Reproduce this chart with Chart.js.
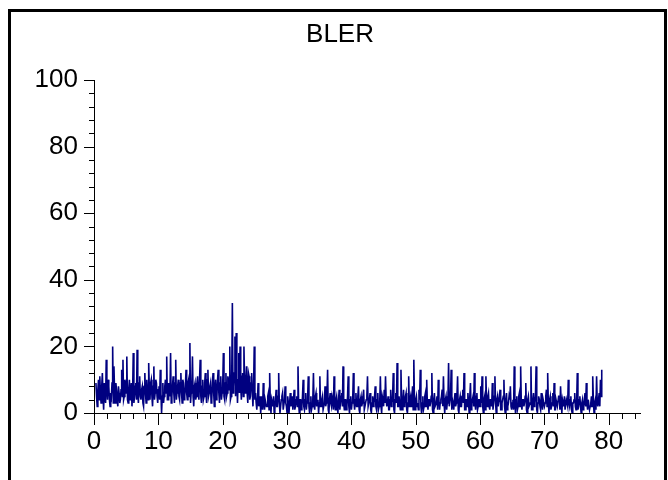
<!DOCTYPE html>
<html>
<head>
<meta charset="utf-8">
<script src="https://cdn.jsdelivr.net/npm/chart.js@4.4.1/dist/chart.umd.min.js"></script>
<style>
  body { margin: 0; background: #fff; }
  #wrap { position: relative; width: 668px; height: 480px; overflow: hidden; }
  #frame {
    position: absolute; left: 8px; top: 9px; width: 653px; height: 480px;
    border-left: 3px solid #000; border-top: 3px solid #000; border-right: 3px solid #000;
    pointer-events: none;
  }
</style>
</head>
<body>
<div id="wrap">
  <canvas id="blerChart" width="668" height="480"></canvas>
  <div id="frame"></div>
</div>
<script>
// ---------- DATA ----------
const TITLE = "BLER";
const X_TICKS = [0, 10, 20, 30, 40, 50, 60, 70, 80];
const Y_TICKS = [0, 20, 40, 60, 80, 100];

// sample times: first sample and spacing (x units)
const T_START = 0.3;
const T_STEP = 0.1;

// BLER samples (5 x-units per row)
const bler = [
    9, 5, 2, 7, 10, 4, 11, 6, 3, 8, 12, 5, 1, 9, 6, 3, 16, 7, 4, 10, 8, 4, 2, 6, 5, 9, 20, 3, 14, 6, 3, 9, 7, 4, 2, 8, 6, 3, 4, 7, 13, 5, 16, 4, 5, 10, 9, 6, 17, 4,
    3, 7, 10, 4, 6, 9, 2, 6, 18, 3, 5, 8, 9, 4, 19, 6, 3, 9, 11, 5, 4, 7, 8, 3, 2, 8, 12, 6, 3, 10, 7, 4, 15, 7, 4, 9, 10, 5, 2, 8, 14, 4, 6, 10, 9, 5, 3, 7, 8, 4,
    13, 6, 0, 5, 9, 3, 5, 8, 10, 6, 17, 4, 4, 9, 7, 5, 18, 3, 5, 8, 11, 6, 3, 9, 16, 4, 6, 8, 10, 5, 4, 9, 12, 6, 3, 10, 9, 4, 5, 8, 13, 6, 4, 9, 10, 5, 21, 3, 6, 8,
    17, 5, 2, 8, 9, 4, 5, 9, 11, 6, 4, 10, 16, 5, 3, 8, 10, 4, 5, 9, 12, 6, 3, 10, 13, 5, 6, 8, 9, 3, 4, 9, 12, 6, 2, 8, 10, 4, 5, 10, 13, 6, 3, 9, 11, 4, 6, 8, 18, 5,
    4, 9, 12, 5, 6, 11, 10, 7, 20, 4, 5, 10, 33, 6, 8, 12, 23, 5, 24, 9, 3, 10, 18, 6, 20, 8, 4, 11, 12, 5, 20, 9, 6, 10, 14, 6, 3, 12, 11, 4, 5, 9, 12, 6, 2, 8, 20, 4, 6, 3,
    1, 4, 9, 2, 3, 5, 0, 3, 5, 1, 9, 3, 1, 4, 4, 2, 2, 5, 6, 1, 12, 3, 0, 4, 3, 2, 5, 0, 1, 4, 7, 2, 2, 5, 12, 3, 0, 2, 4, 5, 6, 1, 1, 4, 8, 3, 2, 0, 5, 3,
    0, 3, 6, 2, 3, 5, 1, 4, 7, 1, 2, 4, 5, 2, 14, 3, 0, 4, 4, 1, 2, 5, 10, 2, 1, 4, 6, 1, 3, 5, 11, 2, 0, 3, 5, 1, 2, 4, 12, 2, 1, 5, 6, 2, 3, 4, 0, 3, 11, 2,
    2, 4, 5, 1, 1, 3, 8, 2, 3, 5, 13, 1, 0, 4, 6, 3, 2, 5, 4, 1, 11, 3, 1, 4, 5, 2, 0, 4, 7, 1, 3, 5, 6, 2, 14, 3, 1, 4, 4, 1, 2, 5, 11, 2, 0, 4, 5, 1, 3, 4,
    12, 3, 1, 4, 6, 2, 2, 5, 8, 1, 0, 4, 5, 2, 3, 5, 7, 1, 1, 3, 4, 5, 11, 2, 2, 4, 6, 1, 0, 3, 5, 2, 3, 5, 8, 2, 1, 4, 6, 1, 2, 3, 11, 2, 0, 5, 4, 2, 7, 3,
    11, 4, 2, 3, 5, 1, 1, 4, 7, 2, 3, 5, 12, 1, 0, 4, 6, 3, 15, 2, 2, 5, 5, 1, 13, 3, 1, 4, 7, 2, 3, 5, 6, 1, 0, 3, 11, 2, 4, 5, 2, 4, 8, 1, 16, 3, 1, 4, 5, 2,
    3, 1, 7, 4, 13, 2, 0, 3, 5, 1, 2, 5, 6, 2, 10, 3, 1, 4, 4, 2, 3, 5, 12, 1, 0, 4, 6, 2, 2, 3, 5, 1, 10, 4, 1, 3, 4, 5, 7, 2, 11, 3, 0, 4, 5, 1, 3, 4, 15, 2,
    2, 5, 13, 1, 4, 3, 1, 4, 6, 2, 3, 5, 11, 1, 0, 4, 5, 2, 2, 5, 7, 3, 12, 1, 1, 4, 4, 2, 6, 3, 0, 5, 9, 1, 3, 4, 5, 2, 12, 3, 1, 5, 6, 1, 2, 4, 4, 2, 8, 3,
    11, 2, 0, 4, 5, 1, 11, 3, 2, 5, 6, 2, 1, 4, 4, 2, 9, 1, 3, 5, 11, 3, 0, 4, 5, 2, 2, 5, 7, 1, 1, 3, 4, 5, 10, 2, 0, 4, 6, 1, 2, 3, 5, 4, 8, 2, 1, 3, 4, 1,
    14, 3, 0, 4, 5, 1, 2, 5, 6, 2, 14, 3, 1, 4, 4, 2, 3, 5, 9, 1, 0, 4, 5, 2, 2, 3, 14, 1, 1, 4, 6, 2, 3, 5, 14, 1, 0, 3, 5, 4, 2, 1, 6, 3, 1, 4, 4, 2, 3, 5,
    7, 2, 12, 3, 0, 4, 5, 1, 2, 3, 6, 2, 9, 1, 1, 4, 4, 2, 2, 5, 5, 1, 8, 3, 0, 4, 3, 2, 5, 1, 1, 4, 4, 2, 10, 3, 2, 4, 5, 1, 0, 3, 3, 4, 6, 2, 1, 3, 12, 1,
    2, 4, 5, 2, 0, 3, 4, 1, 2, 4, 6, 2, 9, 3, 1, 4, 4, 1, 2, 3, 5, 2, 11, 4, 0, 3, 4, 1, 11, 3, 2, 4, 6, 2, 10, 5, 13
];

const points = bler.map((v, i) => ({ x: T_START + i * T_STEP, y: v }));

const FONT_FAMILY = "'Liberation Sans', Arial, sans-serif";
const tickFont = { family: FONT_FAMILY, size: 26 };

// ---------- AXES + TITLE (ticks drawn by hand, minor + major) ----------
const axisPlugin = {
    id: "axisTicks",
    afterDraw(chart) {
        const { ctx, chartArea, scales } = chart;
        const xs = scales.x, ys = scales.y;
        ctx.save();
        ctx.strokeStyle = "#000";
        ctx.lineWidth = 1;
        ctx.beginPath();
        // axis lines
        ctx.moveTo(chartArea.left + 0.5, chartArea.top);
        ctx.lineTo(chartArea.left + 0.5, chartArea.bottom + 0.5);
        ctx.lineTo(chartArea.right, chartArea.bottom + 0.5);
        // x ticks every 2, major every 10
        for (let v = 0; v <= xs.max; v += 2) {
            const px = Math.round(xs.getPixelForValue(v)) + 0.5;
            const len = v % 10 === 0 ? 12 : 6;
            ctx.moveTo(px, chartArea.bottom);
            ctx.lineTo(px, chartArea.bottom + len);
        }
        // y ticks every 4, major every 20
        for (let v = 0; v <= ys.max; v += 4) {
            const py = Math.round(ys.getPixelForValue(v)) + 0.5;
            const len = v % 20 === 0 ? 10 : 5;
            ctx.moveTo(chartArea.left, py);
            ctx.lineTo(chartArea.left - len, py);
        }
        ctx.stroke();

        // title
        ctx.fillStyle = "#000";
        ctx.font = "26px " + FONT_FAMILY;
        ctx.textAlign = "center";
        ctx.textBaseline = "middle";
        ctx.fillText(TITLE, 340, 35);
        ctx.restore();
    }
};

new Chart(document.getElementById("blerChart"), {
    type: "line",
    data: {
        datasets: [{
            data: points,
            borderColor: "#000080",
            borderWidth: 1.6,
            pointRadius: 0,
            tension: 0,
            fill: false
        }]
    },
    options: {
        responsive: false,
        animation: false,
        devicePixelRatio: 1,
        layout: { padding: { left: 20, right: 27, top: 80, bottom: 17 } },
        plugins: {
            legend: { display: false },
            tooltip: { enabled: false },
            title: { display: false }
        },
        scales: {
            x: {
                type: "linear",
                min: 0,
                max: 85,
                grid: { display: false, drawTicks: false },
                border: { display: false },
                afterFit(scale) { scale.height = 50; },
                afterBuildTicks(scale) { scale.ticks = X_TICKS.map(v => ({ value: v })); },
                ticks: { color: "#000", font: tickFont, padding: 13, maxRotation: 0, autoSkip: false }
            },
            y: {
                min: 0,
                max: 100,
                grid: { display: false, drawTicks: false },
                border: { display: false },
                afterFit(scale) { scale.width = 74; },
                afterBuildTicks(scale) { scale.ticks = Y_TICKS.map(v => ({ value: v })); },
                ticks: { color: "#000", font: tickFont, padding: 16 }
            }
        }
    },
    plugins: [axisPlugin]
});
</script>
</body>
</html>
